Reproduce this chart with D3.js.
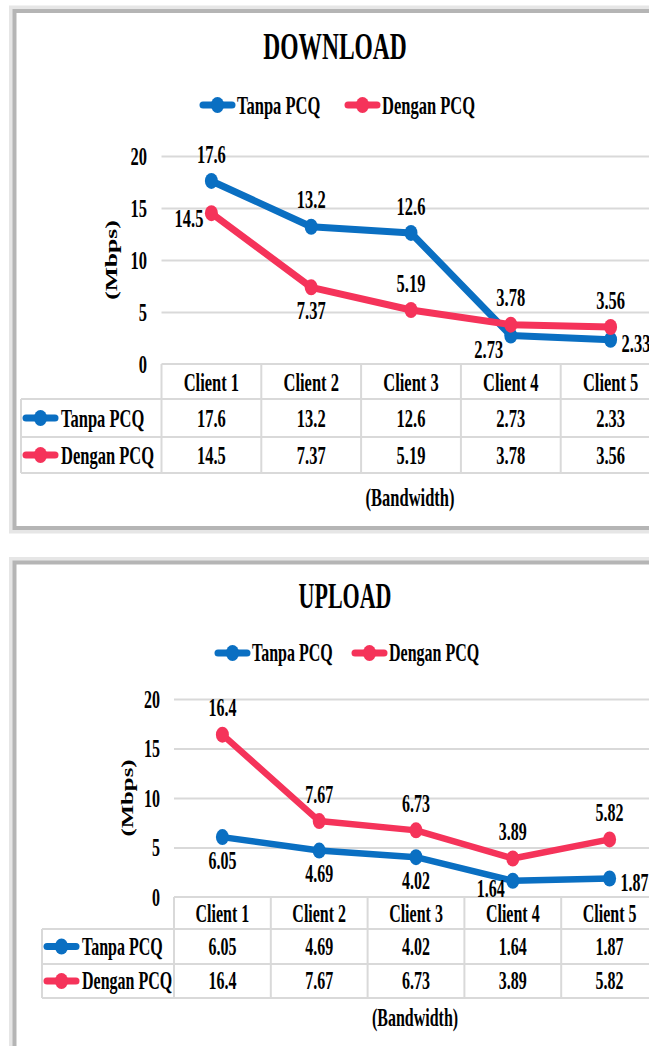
<!DOCTYPE html>
<html>
<head>
<meta charset="utf-8">
<script src="https://cdn.jsdelivr.net/npm/d3@7"></script>
<style>
  html, body { margin: 0; padding: 0; background: #ffffff; }
  svg { display: block; }
  text { font-family: "Liberation Serif", "Times New Roman", serif; font-weight: bold; fill: #000; }
</style>
</head>
<body>
<svg id="chart" width="649" height="1046"></svg>
<script>
// ---- data ----
const categories = ["Client 1", "Client 2", "Client 3", "Client 4", "Client 5"];
const seriesNames = ["Tanpa PCQ", "Dengan PCQ"];
const downloadTanpa = [17.6, 13.2, 12.6, 2.73, 2.33];
const downloadDengan = [14.5, 7.37, 5.19, 3.78, 3.56];
const uploadTanpa = [6.05, 4.69, 4.02, 1.64, 1.87];
const uploadDengan = [16.4, 7.67, 6.73, 3.89, 5.82];
const yTicks = [0, 5, 10, 15, 20];
const chartTitles = ["DOWNLOAD", "UPLOAD"];
const yAxisTitle = "(Mbps)";
const xAxisTitle = "(Bandwidth)";

// label placement (style)
const downloadPlacement = [["above", "above", "above", "belowLeft", "right"], ["left", "below", "above", "above", "above"]];
const uploadPlacement = [["below", "below", "below", "belowLeft", "right"], ["above", "above", "above", "above", "above"]];

const colors = ["#0a6fc2", "#f5335a"];
const S = 1.55; // vertical stretch of the original picture

const svg = d3.select("#chart");

function txt(g, x, y, str, fs, anchor, stretch) {
  return g.append("text")
    .attr("transform", `translate(${x},${y}) scale(1,${stretch || S})`)
    .attr("dy", "0.34em")
    .attr("text-anchor", anchor || "middle")
    .style("font-size", fs + "px")
    .text(str);
}

function legendKey(g, x, y, color, w) {
  g.append("line").attr("x1", x + 3).attr("x2", x + w - 3).attr("y1", y).attr("y2", y)
    .attr("stroke", color).attr("stroke-width", 7).attr("stroke-linecap", "round");
  g.append("ellipse").attr("cx", x + w / 2).attr("cy", y).attr("rx", 6.5).attr("ry", 8).attr("fill", color);
}

function drawChart(cfg) {
  const g = svg.append("g");
  // frame
  g.append("rect").attr("x", 14.5).attr("y", cfg.frameTop).attr("width", 700).attr("height", cfg.frameH)
    .attr("fill", "none").attr("stroke", "#e6e6e6").attr("stroke-width", 11);
  g.append("rect").attr("x", 14.5).attr("y", cfg.frameTop).attr("width", 700).attr("height", cfg.frameH)
    .attr("fill", "#fff").attr("stroke", "#b5b5b5").attr("stroke-width", 4);

  // title
  txt(g, cfg.titleX, cfg.titleY, cfg.title, cfg.titleFs, "middle", 1.65);

  // legend
  seriesNames.forEach((n, i) => {
    legendKey(g, cfg.legendX[i], cfg.legendY, colors[i], 35);
    txt(g, cfg.legendX[i] + 37, cfg.legendY, n, cfg.fs, "start");
  });

  const x = d3.scaleBand().domain(categories).range([cfg.left, cfg.right]);
  const bw = x.bandwidth();
  const cx = c => x(c) + bw / 2;
  const y = d3.scaleLinear().domain([0, 20]).range([cfg.y0, cfg.y20]);

  // gridlines
  const grid = g.append("g").attr("transform", `translate(${cfg.left},0)`)
    .call(d3.axisLeft(y).tickValues(yTicks.filter(t => t > 0)).tickSize(-(cfg.right - cfg.left)).tickFormat(""));
  grid.select(".domain").remove();
  grid.selectAll(".tick line").attr("stroke", "#d9d9d9").attr("stroke-width", 2);

  // y axis labels
  const ax = g.append("g").attr("transform", `translate(${cfg.tickRight},0)`)
    .call(d3.axisLeft(y).tickValues(yTicks).tickSize(0).tickPadding(0));
  ax.select(".domain").remove();
  ax.selectAll(".tick text")
    .attr("transform", `scale(1,${S})`)
    .attr("dy", "0.34em")
    .style("font-size", cfg.fs + "px")
    .style("font-family", null);

  // y axis title
  g.append("text")
    .attr("transform", `translate(${cfg.mbpsX},${(cfg.y0 + cfg.y20) / 2}) scale(1,${S}) rotate(-90)`)
    .attr("dy", "0.34em").attr("text-anchor", "middle")
    .style("font-size", cfg.fs + "px").text(yAxisTitle);

  // table
  const rows = cfg.rows; // [headerTop, row1Top, row2Top, bottom]
  const tb = g.append("g");
  const lc = "#d9d9d9";
  tb.append("line").attr("x1", cfg.left).attr("x2", cfg.right).attr("y1", rows[0]).attr("y2", rows[0]).attr("stroke", lc).attr("stroke-width", 2);
  [rows[1], rows[2], rows[3]].forEach(r => tb.append("line").attr("x1", cfg.labelLeft).attr("x2", cfg.right).attr("y1", r).attr("y2", r).attr("stroke", lc).attr("stroke-width", 2));
  tb.append("line").attr("x1", cfg.labelLeft).attr("x2", cfg.labelLeft).attr("y1", rows[1]).attr("y2", rows[3]).attr("stroke", lc).attr("stroke-width", 2);
  categories.forEach(c => tb.append("line").attr("x1", x(c)).attr("x2", x(c)).attr("y1", rows[0]).attr("y2", rows[3]).attr("stroke", lc).attr("stroke-width", 2));
  tb.append("line").attr("x1", cfg.right).attr("x2", cfg.right).attr("y1", rows[0]).attr("y2", rows[3]).attr("stroke", lc).attr("stroke-width", 2);

  categories.forEach(c => txt(tb, cx(c), (rows[0] + rows[1]) / 2 + 1, c, cfg.fs));
  cfg.series.forEach((vals, i) => {
    const ym = (rows[i + 1] + rows[i + 2]) / 2;
    legendKey(tb, cfg.labelLeft + 2, ym, colors[i], 35);
    txt(tb, cfg.labelLeft + 40, ym, seriesNames[i], cfg.fs, "start");
    vals.forEach((v, j) => txt(tb, cx(categories[j]), ym, String(v), cfg.fs));
  });

  txt(g, cfg.bwX, cfg.bwY, xAxisTitle, cfg.fs);

  // lines
  const line = d3.line().x((d, j) => cx(categories[j])).y(d => y(d));
  cfg.series.forEach((vals, i) => {
    g.append("path").datum(vals).attr("d", line).attr("fill", "none")
      .attr("stroke", colors[i]).attr("stroke-width", cfg.lw).attr("stroke-linejoin", "round");
    g.selectAll(null).data(vals).enter().append("ellipse")
      .attr("cx", (d, j) => cx(categories[j])).attr("cy", d => y(d))
      .attr("rx", 6.5).attr("ry", 8).attr("fill", colors[i]);
  });

  // data labels
  const off = {
    above: [0, -27, "middle"], below: [0, 23, "middle"], left: [-8, 5, "end"],
    right: [11, 4, "start"], belowLeft: [-22, cfg.blDy, "middle"]
  };
  cfg.series.forEach((vals, i) => {
    vals.forEach((v, j) => {
      const o = off[cfg.placement[i][j]];
      txt(g, cx(categories[j]) + o[0], y(v) + o[1], String(v), cfg.fs, o[2]);
    });
  });
}

drawChart({
  frameTop: 11, frameH: 517, title: chartTitles[0], titleX: 335, titleY: 46, titleFs: 23.5,
  legendX: [200, 345], legendY: 105, left: 161.5, right: 660.5, y0: 364, y20: 156,
  tickRight: 147, mbpsX: 111, rows: [364, 399, 437, 473], labelLeft: 21,
  bwX: 410, bwY: 497, fs: 16.5, lw: 7, blDy: 14,
  series: [downloadTanpa, downloadDengan], placement: downloadPlacement
});

drawChart({
  frameTop: 562.5, frameH: 600, title: chartTitles[1], titleX: 345, titleY: 595.5, titleFs: 22,
  legendX: [215, 352], legendY: 653, left: 174, right: 658, y0: 897, y20: 699,
  tickRight: 160, mbpsX: 128, rows: [897, 929, 964, 998], labelLeft: 42,
  bwX: 415, bwY: 1018, fs: 16, lw: 6.5, blDy: 8,
  series: [uploadTanpa, uploadDengan], placement: uploadPlacement
});
</script>
</body>
</html>
